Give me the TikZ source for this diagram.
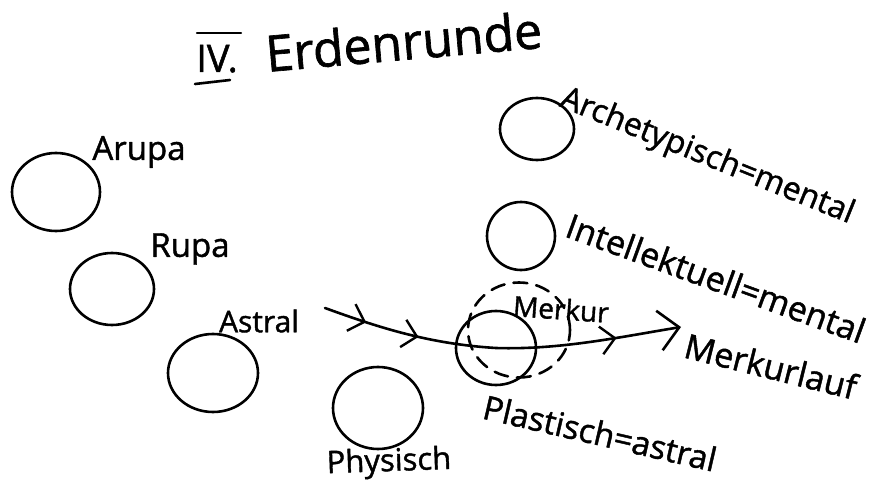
\documentclass[tikz,border=0pt]{standalone}
\usepackage{fontspec}
\setmainfont{Open Sans}[FakeBold=1.3]
\usetikzlibrary{arrows.meta,decorations.markings,shapes.geometric}
\begin{document}
\begin{tikzpicture}[x=1pt,y=-1pt,line width=2.6pt,line cap=round,line join=round,
  planet/.style={draw,ellipse,inner sep=0pt},
  lbl/.style={inner sep=0pt,font=\fontsize{32}{32}\selectfont},
  midarrow/.style={postaction={decorate},decoration={markings,
    mark=at position 0.12 with {\arrow{Straight Barb[length=14pt,width=28pt,line width=2.4pt]}},
    mark=at position 0.27 with {\arrow{Straight Barb[length=14pt,width=28pt,line width=2.4pt]}},
    mark=at position 0.82 with {\arrow{Straight Barb[length=14pt,width=28pt,line width=2.4pt]}}}},
  ]
\useasboundingbox (0,0) rectangle (876,487);
% title
\node[lbl,font=\fontsize{38}{38}\selectfont,anchor=base west] (iv) at (195,72) {IV.};
\node[lbl,font=\fontsize{50}{50}\selectfont,anchor=base west,rotate=5] (title) at (266,72) {Erdenrunde};
\draw[line width=2.2pt] ([xshift=2pt,yshift=39pt]iv.base west) -- ([xshift=46pt,yshift=39pt]iv.base west);
\draw[line width=2.6pt] ([xshift=0pt,yshift=-12pt]iv.base west) -- ([xshift=35pt,yshift=-8pt]iv.base west);
% left planets
\node[planet,minimum width=88pt,minimum height=78pt] (arupa) at (56,192) {};
\node[lbl,font=\fontsize{33}{33}\selectfont] (arupaL) at (139,152) {Arupa};
\node[planet,minimum width=84pt,minimum height=72pt] (rupa) at (112,289) {};
\node[lbl,font=\fontsize{33}{33}\selectfont] (rupaL) at (190,249) {Rupa};
\node[planet,minimum width=90pt,minimum height=78pt] (astral) at (213,373) {};
\node[lbl,font=\fontsize{30}{30}\selectfont] (astralL) at (259,321) {Astral};
\node[planet,minimum width=90pt,minimum height=82pt] (phys) at (378,408) {};
\node[lbl,font=\fontsize{31}{31}\selectfont,rotate=2] (physL) at (389,463) {Physisch};
% right planets
\node[planet,minimum width=74pt,minimum height=62pt] (arch) at (537,129) {};
\node[lbl,rotate=-22] (archL) at (707,157) {Archetypisch=mental};
\node[planet,minimum width=68pt,minimum height=68pt] (intel) at (521,236) {};
\node[lbl,font=\fontsize{34}{34}\selectfont,rotate=-20] (intelL) at (716,278) {Intellektuell=mental};
\node[planet,minimum width=80pt,minimum height=74pt] (merk) at (496,348) {};
\node[planet,dashed,dash pattern=on 14pt off 9pt,minimum width=102pt,minimum height=95pt] (merkD) at (519,330) {};
\node[lbl,font=\fontsize{28}{28}\selectfont,rotate=-4] (merkL) at (561,309) {Merkur};
\node[lbl,font=\fontsize{33}{33}\selectfont,rotate=-13] (plastL) at (600,433) {Plastisch=astral};
\node[lbl,font=\fontsize{34}{34}\selectfont,rotate=-14] (laufL) at (771,366) {Merkurlauf};
% orbit
\coordinate (s) at (325,308);
\coordinate (e) at (681,327);
\draw[midarrow,-{Straight Barb[length=20pt,width=40pt,line width=2.6pt]}]
  (s) .. controls (380,328) and (430,344) .. (merk.center)
      .. controls (560,350) and (620,337) .. (e);
\end{tikzpicture}
\end{document}
